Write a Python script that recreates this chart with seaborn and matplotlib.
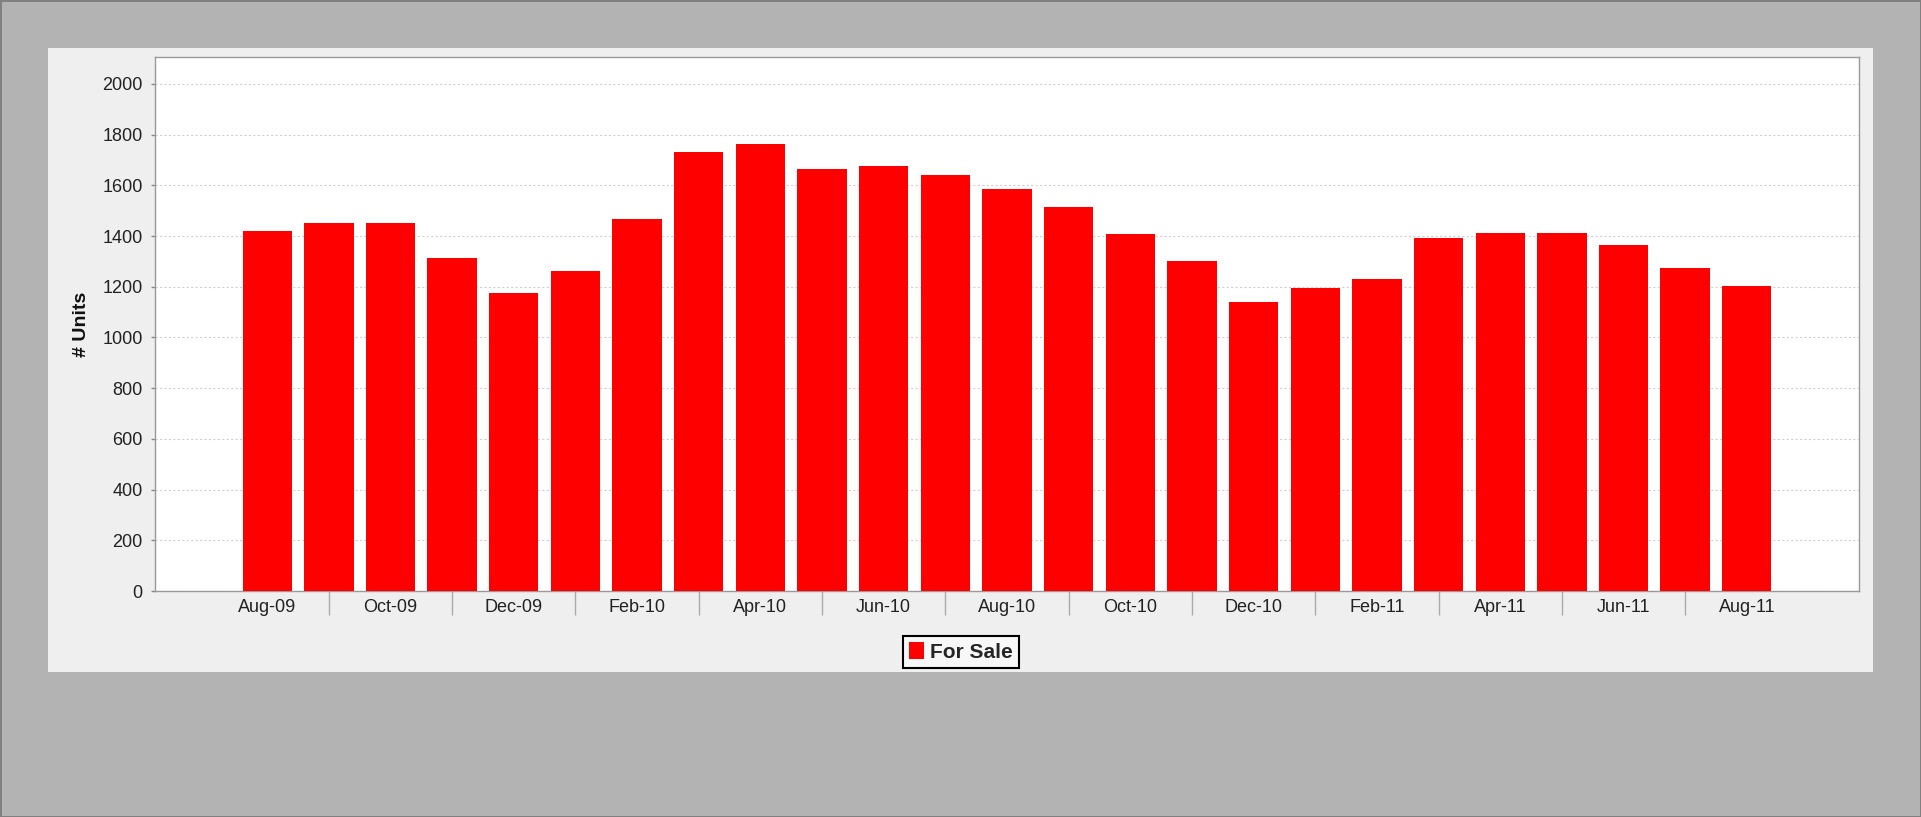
import pandas as pd
import seaborn as sns
import matplotlib.pyplot as plt
from matplotlib.patches import Rectangle

# Data
months = ["Aug-09", "Sep-09", "Oct-09", "Nov-09", "Dec-09", "Jan-10", "Feb-10",
          "Mar-10", "Apr-10", "May-10", "Jun-10", "Jul-10", "Aug-10", "Sep-10",
          "Oct-10", "Nov-10", "Dec-10", "Jan-11", "Feb-11", "Mar-11", "Apr-11",
          "May-11", "Jun-11", "Jul-11", "Aug-11"]
for_sale = [1421, 1452, 1452, 1315, 1174, 1262, 1467,
            1733, 1762, 1664, 1678, 1641, 1585, 1515,
            1409, 1300, 1139, 1194, 1229, 1391, 1413,
            1413, 1364, 1274, 1204]
y_ticks = [0, 200, 400, 600, 800, 1000, 1200, 1400, 1600, 1800, 2000]

df = pd.DataFrame({"month": months, "units": for_sale, "series": "For Sale"})

sns.set_style("white")
plt.rcParams["font.family"] = ["Liberation Sans", "DejaVu Sans"]

W, H = 1921, 817
fig = plt.figure(figsize=(W / 100, H / 100), dpi=100,
                 facecolor="#b3b3b3", edgecolor="#808080", linewidth=2)

# light panel behind the chart
fig.patches.append(Rectangle((48 / W, 1 - 672 / H), (1873 - 48) / W, (672 - 48) / H,
                             transform=fig.transFigure, facecolor="#efefef",
                             edgecolor="none", zorder=-5))

ax = fig.add_axes([155 / W, 1 - 591 / H, (1859 - 155) / W, (591 - 57) / H])
ax.set_zorder(1)
ax.set_facecolor("white")

sns.barplot(data=df, x="month", y="units", hue="series",
            palette={"For Sale": "#ff0000"}, saturation=1, width=0.8,
            edgecolor="none", legend=False, ax=ax, zorder=3)

ax.set_xlim(-1.82, len(months) - 1 + 1.82)
ax.set_ylim(0, 2106)
ax.set_yticks(y_ticks)
ax.yaxis.grid(True, color="#d0d0d0", linestyle=(0, (2, 2)), linewidth=0.8, zorder=0)
ax.xaxis.grid(False)

ax.set_xticks(range(0, len(months), 2))
ax.set_xticklabels(months[::2])
ax.set_xticks(range(1, len(months), 2), minor=True)
ax.tick_params(axis="x", which="major", length=0, pad=6, labelsize=13, labelcolor="#222222")
ax.tick_params(axis="x", which="minor", direction="out", length=17, width=1,
               color="#aaaaaa", bottom=True)
ax.tick_params(axis="y", length=3, width=1, color="#888888", left=True,
               pad=6, labelsize=13, labelcolor="#222222")

for s in ax.spines.values():
    s.set_color("#999999")
    s.set_linewidth(1)

ax.set_xlabel("")
ax.set_ylabel("# Units", fontsize=14, fontweight="bold", color="#111111")
ax.yaxis.set_label_coords((90 - 155) / (1859 - 155), 0.5)

handles = [Rectangle((0, 0), 1, 1, facecolor="#ff0000", edgecolor="none")]
leg = fig.legend(handles, ["For Sale"], loc="center",
                 bbox_to_anchor=(961 / W, 1 - 652 / H), frameon=True, fancybox=False,
                 edgecolor="black", facecolor="#f8f8f8", framealpha=1,
                 handlelength=0.7, handleheight=0.9, handletextpad=0.3,
                 borderpad=0.3, borderaxespad=0,
                 prop={"weight": "bold", "size": 15})
leg.get_frame().set_linewidth(1.5)
leg.set_zorder(2)

fig.savefig("out.png", dpi=100)
